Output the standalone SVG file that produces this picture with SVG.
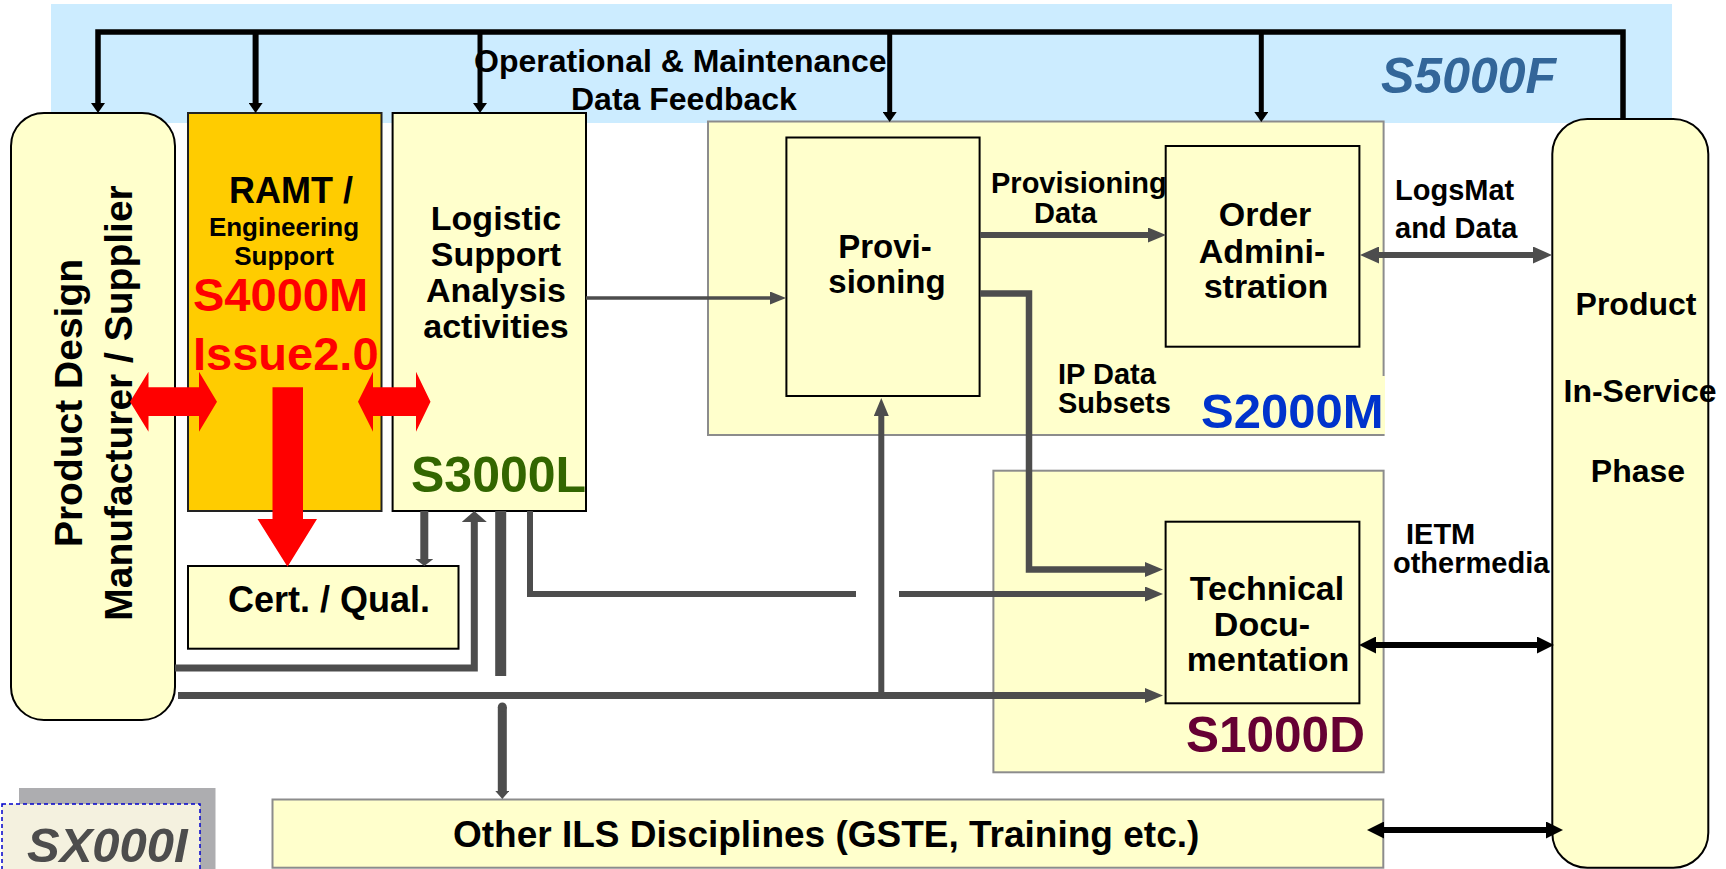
<svg xmlns="http://www.w3.org/2000/svg" width="1726" height="869" viewBox="0 0 1726 869">
  <style>
    .t { font-family: "Liberation Sans", Arial, Helvetica, sans-serif; font-weight: bold; fill: #000; }
    .lbl { font-family: "Liberation Sans", Arial, Helvetica, sans-serif; font-weight: bold; fill: #000; font-size: 29px; }
    .box { fill: #FFFFCC; stroke: #000; stroke-width: 2; }
    .cont { fill: #FFFFCC; stroke: #8C8C8C; stroke-width: 2; }
    .gl { fill: none; stroke: #4D4D4D; stroke-linejoin: miter; }
    .bl { fill: none; stroke: #000; stroke-linejoin: miter; }
    .red { fill: #FF0000; }
  </style>
  <defs>
    <marker id="mB" markerUnits="userSpaceOnUse" markerWidth="10" markerHeight="14" refX="2" refY="7" orient="auto">
      <path d="M0,0 L10,7 L0,14 Z" fill="#000"/>
    </marker>
    <marker id="mBd" markerUnits="userSpaceOnUse" markerWidth="17" markerHeight="17" refX="4" refY="8.5" orient="auto-start-reverse">
      <path d="M0,0 L17,8.5 L0,17 Z" fill="#000"/>
    </marker>
    <marker id="mG" markerUnits="userSpaceOnUse" markerWidth="18" markerHeight="15" refX="2" refY="7.5" orient="auto">
      <path d="M0,0 L18,7.5 L0,15 Z" fill="#4D4D4D"/>
    </marker>
    <marker id="mGs" markerUnits="userSpaceOnUse" markerWidth="16" markerHeight="13" refX="2" refY="6.5" orient="auto">
      <path d="M0,0 L16,6.5 L0,13 Z" fill="#4D4D4D"/>
    </marker>
    <marker id="mGw" markerUnits="userSpaceOnUse" markerWidth="11" markerHeight="25" refX="2" refY="12.5" orient="auto">
      <path d="M0,0 L11,12.5 L0,25 Z" fill="#4D4D4D"/>
    </marker>
    <marker id="mGc" markerUnits="userSpaceOnUse" markerWidth="7" markerHeight="18" refX="2" refY="9" orient="auto">
      <path d="M0,0 L7,9 L0,18 Z" fill="#4D4D4D"/>
    </marker>
    <marker id="mGo" markerUnits="userSpaceOnUse" markerWidth="8" markerHeight="14" refX="2" refY="7" orient="auto">
      <path d="M0,0 L8,7 L0,14 Z" fill="#4D4D4D"/>
    </marker>
    <marker id="mDot" markerUnits="userSpaceOnUse" markerWidth="10" markerHeight="10" refX="5" refY="5" orient="auto">
      <circle cx="5" cy="5" r="4.5" fill="#4D4D4D"/>
    </marker>
    <marker id="mGd" markerUnits="userSpaceOnUse" markerWidth="19" markerHeight="17" refX="4" refY="8.5" orient="auto-start-reverse">
      <path d="M0,0 L19,8.5 L0,17 Z" fill="#4D4D4D"/>
    </marker>
  </defs>

  <!-- S5000F feedback band -->
  <g id="s5000f">
    <rect x="51" y="4" width="1621" height="119" fill="#CCECFF"/>
    <text class="t" x="474" y="72" font-size="32">Operational &amp; Maintenance</text>
    <text class="t" x="571" y="110" font-size="32">Data Feedback</text>
    <text class="t" x="1381" y="93" font-size="50" font-style="italic" style="fill:#336699">S5000F</text>
  </g>

  <!-- S2000M material supply area -->
  <g id="s2000m">
    <rect class="cont" x="708" y="121.5" width="675.6" height="313.5"/>
    <rect x="1198" y="376" width="187" height="58" fill="#FFFFCC"/>
    <text class="t" x="1201" y="428" font-size="49" style="fill:#0033CC">S2000M</text>
  </g>

  <!-- S1000D technical publications area -->
  <g id="s1000d">
    <rect class="cont" x="993.4" y="470.7" width="390.2" height="301.6"/>
    <text class="t" x="1186" y="752" font-size="49.5" style="fill:#660033">S1000D</text>
  </g>

  <g id="product-design">
    <rect class="box" x="11" y="113" width="164" height="607" rx="33" ry="33"/>
    <text class="t" font-size="39" text-anchor="middle" transform="translate(82,403) rotate(-90)">Product Design</text>
    <text class="t" font-size="39" text-anchor="middle" transform="translate(132,403) rotate(-90)">Manufacturer / Supplier</text>
  </g>

  <g id="ramt">
    <rect x="188" y="113" width="193.5" height="398" fill="#FFCC00" stroke="#222" stroke-width="2"/>
    <text class="t" x="229" y="203" font-size="36">RAMT /</text>
    <text class="t" x="284" y="236" font-size="26" text-anchor="middle">Engineering</text>
    <text class="t" x="284" y="265" font-size="26" text-anchor="middle">Support</text>
    <text class="t" x="193" y="311" font-size="47" style="fill:#FF0000">S4000M</text>
    <text class="t" x="193" y="370" font-size="47" style="fill:#FF0000">Issue2.0</text>
  </g>

  <g id="lsa">
    <rect class="box" x="392.6" y="113" width="193.4" height="398"/>
    <text class="t" x="496" y="230" font-size="34" text-anchor="middle">Logistic</text>
    <text class="t" x="496" y="265.5" font-size="34" text-anchor="middle">Support</text>
    <text class="t" x="496" y="302" font-size="34" text-anchor="middle">Analysis</text>
    <text class="t" x="496" y="338" font-size="34" text-anchor="middle">activities</text>
    <text class="t" x="411" y="492" font-size="50" style="fill:#336600">S3000L</text>
  </g>

  <g id="cert-qual">
    <rect class="box" x="188" y="566" width="270.5" height="82.7"/>
    <text class="t" x="228" y="612" font-size="36">Cert. / Qual.</text>
  </g>

  <g id="provisioning">
    <rect class="box" x="786.4" y="137.5" width="193.2" height="258.5"/>
    <text class="t" x="885" y="258" font-size="33" text-anchor="middle">Provi-</text>
    <text class="t" x="887" y="293" font-size="33" text-anchor="middle">sioning</text>
  </g>

  <g id="order-administration">
    <rect class="box" x="1165.7" y="146" width="193.7" height="200.7"/>
    <text class="t" x="1265" y="226" font-size="34" text-anchor="middle">Order</text>
    <text class="t" x="1262" y="263" font-size="34" text-anchor="middle">Admini-</text>
    <text class="t" x="1266" y="298" font-size="34" text-anchor="middle">stration</text>
  </g>

  <g id="technical-documentation">
    <rect class="box" x="1165.6" y="521.7" width="193.8" height="181.6"/>
    <text class="t" x="1267" y="600" font-size="34" text-anchor="middle">Technical</text>
    <text class="t" x="1262" y="636" font-size="34" text-anchor="middle">Docu-</text>
    <text class="t" x="1268" y="671" font-size="34" text-anchor="middle">mentation</text>
  </g>

  <g id="other-ils">
    <rect class="cont" x="272.5" y="799.5" width="1110.8" height="68.2"/>
    <text class="t" x="453" y="847" font-size="37">Other ILS Disciplines (GSTE, Training etc.)</text>
  </g>

  <g id="product-in-service">
    <rect class="box" x="1552.3" y="119" width="156" height="748.7" rx="35" ry="35"/>
    <text class="t" x="1636" y="315" font-size="32" text-anchor="middle">Product</text>
    <text class="t" x="1640" y="402" font-size="32" text-anchor="middle">In-Service</text>
    <text class="t" x="1638" y="482" font-size="32" text-anchor="middle">Phase</text>
  </g>

  <g id="sx000i">
    <rect x="19" y="788" width="196.5" height="90" fill="#ADADB0"/>
    <rect x="2" y="804" width="198" height="80" fill="#F4F1DF" stroke="#0000CC" stroke-width="1.5" stroke-dasharray="4,3"/>
    <text class="t" x="27" y="862" font-size="49" font-style="italic" style="fill:#4D4D4D">SX000I</text>
  </g>

  <!-- connectors -->
  <g id="connectors">
    <!-- feedback loop from the in-service phase -->
    <path class="bl" stroke-width="5.5" d="M1623,119 V32 H98 V105" marker-end="url(#mB)"/>
    <path class="bl" stroke-width="6" d="M255.6,30 V105" marker-end="url(#mB)"/>
    <path class="bl" stroke-width="5" d="M480,32 V105" marker-end="url(#mB)"/>
    <path class="bl" stroke-width="5" d="M889.7,32 V114" marker-end="url(#mB)"/>
    <path class="bl" stroke-width="5" d="M1261.3,32 V114" marker-end="url(#mB)"/>

    <!-- data flows -->
    <path class="gl" stroke-width="3.5" d="M586,298 H772" marker-end="url(#mGs)"/>
    <path class="gl" stroke-width="6" d="M980,235 H1150" marker-end="url(#mG)"/>
    <path class="gl" stroke-width="6.5" d="M980,293.5 H1029 V569.5 H1147" marker-end="url(#mG)"/>
    <path class="gl" stroke-width="6" d="M530,511 V594 H856"/>
    <path class="gl" stroke-width="6" d="M899,594 H1147" marker-end="url(#mG)"/>
    <path class="gl" stroke-width="7" d="M178,695.5 H1147" marker-end="url(#mG)"/>
    <path class="gl" stroke-width="6" d="M881.3,692 V414" marker-end="url(#mG)"/>
    <path class="gl" stroke-width="7" d="M175,668 H474.3 V520" marker-end="url(#mGw)"/>
    <path class="gl" stroke-width="11" d="M500.7,511 V676"/>
    <path class="gl" stroke-width="8" d="M424.3,511 V561" marker-end="url(#mGc)"/>
    <path class="gl" stroke-width="9" d="M502.3,707 V793" marker-start="url(#mDot)" marker-end="url(#mGo)"/>
    <path class="gl" stroke-width="6" d="M1375,255 H1537" marker-start="url(#mGd)" marker-end="url(#mGd)"/>
    <path class="bl" stroke-width="6" d="M1372,645 H1541" marker-start="url(#mBd)" marker-end="url(#mBd)"/>
    <path class="bl" stroke-width="6" d="M1380,830 H1550" marker-start="url(#mBd)" marker-end="url(#mBd)"/>

    <!-- flow labels -->
    <text class="lbl" x="991" y="193">Provisioning</text>
    <text class="lbl" x="1034" y="223">Data</text>
    <text class="lbl" x="1058" y="384">IP Data</text>
    <text class="lbl" x="1058" y="413">Subsets</text>
    <text class="lbl" x="1395" y="200">LogsMat</text>
    <text class="lbl" x="1395" y="238">and Data</text>
    <text class="lbl" x="1406" y="544">IETM</text>
    <text class="lbl" x="1393" y="573">othermedia</text>

    <!-- RAMT exchange arrows -->
    <polygon class="red" points="130,401.7 148.5,371.7 148.5,387.3 199,387.3 199,371.7 217,401.7 199,431.7 199,416 148.5,416 148.5,431.7"/>
    <polygon class="red" points="358,401.7 373,371.7 373,387.3 416,387.3 416,371.7 430.5,401.7 416,431.7 416,416 373,416 373,431.7"/>
    <polygon class="red" points="272.5,387.3 303,387.3 303,519 317,519 287.5,566.7 257.5,519 272.5,519"/>
  </g>
</svg>
